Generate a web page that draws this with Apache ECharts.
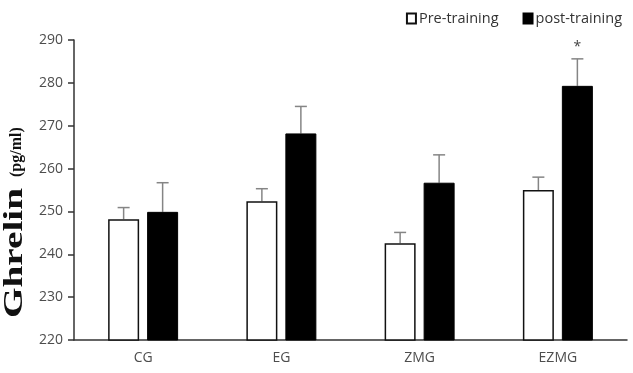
<!DOCTYPE html>
<html>
<head>
<meta charset="utf-8">
<script src="https://cdn.jsdelivr.net/npm/echarts@6/dist/echarts.min.js"></script>
<style>
  html, body { margin: 0; padding: 0; background: #fff; }
  #chart { width: 633px; height: 373px; }
</style>
</head>
<body>
<div id="chart"></div>
<script>
// 组别与数值
const groups = ["CG", "EG", "ZMG", "EZMG"];
const preValues = [248.2, 252.4, 242.6, 255.0];
const preErrors = [2.7, 2.9, 2.5, 3.0];
const postValues = [249.9, 268.2, 256.7, 279.3];
const postErrors = [6.8, 6.3, 6.5, 6.3];
const marks = ["", "", "", "*"];
const yTicks = [220, 230, 240, 250, 260, 270, 280, 290];

const chart = echarts.init(document.getElementById("chart"));

const BAR_W = 31;
const BAR_GAP = 8;
const labelFont = "'Open Sans', sans-serif";
const serifFont = "'Liberation Serif', 'DejaVu Serif', serif";

// 误差线（只画上半部分）
const errorSeries = (values, errors, side, withMarks) => ({
  type: "custom",
  silent: true,
  z: 1,
  data: values.map((v, i) => [i, v, v + errors[i]]),
  renderItem: (params, api) => {
    const base = api.coord([api.value(0), api.value(1)]);
    const top = api.coord([api.value(0), api.value(2)]);
    const x = base[0] + side * (BAR_W + BAR_GAP) / 2;
    const children = [
      {
        type: "line",
        shape: { x1: x, y1: base[1], x2: x, y2: top[1] },
        style: { stroke: "#858585", lineWidth: 1.5 },
      },
      {
        type: "line",
        shape: { x1: x - 6, y1: top[1], x2: x + 6, y2: top[1] },
        style: { stroke: "#858585", lineWidth: 1.5 },
      },
    ];
    const mark = withMarks ? marks[params.dataIndex] : "";
    if (mark) {
      children.push({
        type: "text",
        style: {
          text: mark,
          x: x,
          y: top[1] - 5,
          align: "center",
          verticalAlign: "bottom",
          fill: "#444",
          font: "14px " + labelFont,
        },
      });
    }
    return { type: "group", children: children };
  },
});

const options = {
  animation: false,
  backgroundColor: "#fff",
  legend: {
    top: 6,
    right: 6,
    itemWidth: 9,
    itemHeight: 10,
    itemGap: 24,
    icon: "rect",
    data: ["Pre-training", "post-training"],
    textStyle: {
      color: "#333",
      fontSize: 14.5,
      fontFamily: labelFont,
      padding: [0, 0, 0, -2],
    },
  },
  grid: {
    left: 74,
    right: 6,
    top: 40,
    bottom: 33,
  },
  xAxis: {
    type: "category",
    data: groups,
    axisLine: { lineStyle: { color: "#333", width: 1.5 } },
    axisTick: { show: false },
    axisLabel: {
      color: "#4d4d4d",
      fontSize: 14,
      fontFamily: labelFont,
      margin: 11,
    },
  },
  yAxis: {
    type: "value",
    min: yTicks[0],
    max: yTicks[yTicks.length - 1],
    interval: 10,
    splitLine: { show: false },
    axisLine: { show: true, lineStyle: { color: "#333", width: 1.5 } },
    axisTick: { show: true, length: 6, lineStyle: { color: "#333", width: 1.5 } },
    axisLabel: {
      color: "#4d4d4d",
      fontSize: 14,
      fontFamily: labelFont,
      margin: 11,
    },
  },
  // 纵轴标题（原图中文字被拉长）
  graphic: [
    {
      type: "text",
      x: 15,
      y: 318,
      rotation: Math.PI / 2,
      scaleX: 1.4,
      style: {
        text: "Ghrelin",
        font: "bold 28px " + serifFont,
        fill: "#111",
        align: "left",
        verticalAlign: "middle",
      },
    },
    {
      type: "text",
      x: 17,
      y: 177,
      rotation: Math.PI / 2,
      style: {
        text: "(pg/ml)",
        font: "bold 16px " + serifFont,
        fill: "#111",
        align: "left",
        verticalAlign: "middle",
      },
    },
  ],
  series: [
    {
      name: "Pre-training",
      type: "bar",
      data: preValues,
      barWidth: BAR_W,
      barGap: (BAR_GAP / BAR_W * 100).toFixed(1) + "%",
      z: 2,
      itemStyle: {
        color: "#fff",
        borderColor: "#111",
        borderWidth: 1.5,
      },
    },
    {
      name: "post-training",
      type: "bar",
      data: postValues,
      barWidth: BAR_W,
      z: 2,
      itemStyle: {
        color: "#000",
        borderColor: "#000",
        borderWidth: 1,
      },
    },
    errorSeries(preValues, preErrors, -1, false),
    errorSeries(postValues, postErrors, 1, true),
  ],
};

chart.setOption(options);
</script>
</body>
</html>
